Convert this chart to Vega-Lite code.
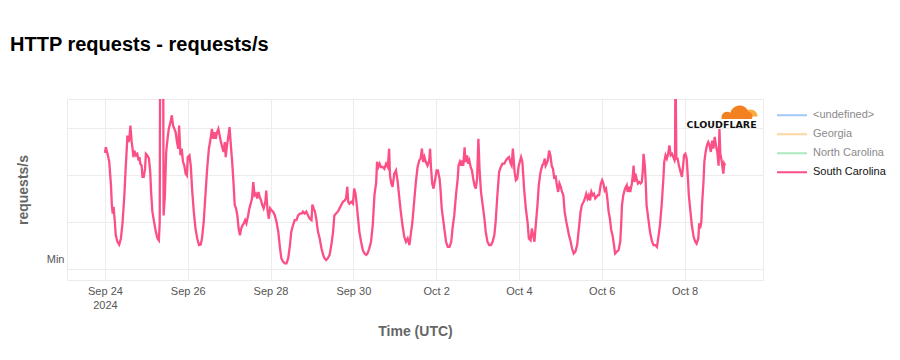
{
"$schema": "https://vega.github.io/schema/vega-lite/v6.json",
"width": 696, "height": 181,
"autosize": {"type": "none"},
"padding": {"left": 67, "top": 99, "right": 137, "bottom": 80},
"background": "white",
"title": {"text": "HTTP requests - requests/s", "anchor": "start", "frame": "group", "dx": -57, "fontSize": 20, "fontWeight": "bold", "color": "#000", "offset": 44, "font": "Liberation Sans"},
"config": {"view": {"stroke": "#ebebeb"}, "font": "Liberation Sans"},
"layer": [
{"data": {"values": [
{"t":"2024-09-24T00:00Z","v":2.47},{"t":"2024-09-24T00:30Z","v":2.59},{"t":"2024-09-24T01:30Z","v":2.45},{"t":"2024-09-24T02:30Z","v":2.28},{"t":"2024-09-24T03:30Z","v":1.78},{"t":"2024-09-24T04:00Z","v":1.36},{"t":"2024-09-24T04:30Z","v":1.18},{"t":"2024-09-24T05:00Z","v":1.32},{"t":"2024-09-24T05:45Z","v":1.00},{"t":"2024-09-24T06:15Z","v":0.72},{"t":"2024-09-24T07:15Z","v":0.58},{"t":"2024-09-24T08:15Z","v":0.52},{"t":"2024-09-24T09:15Z","v":0.65},{"t":"2024-09-24T10:15Z","v":1.00},{"t":"2024-09-24T11:15Z","v":1.57},{"t":"2024-09-24T12:00Z","v":2.13},{"t":"2024-09-24T12:45Z","v":2.63},{"t":"2024-09-24T13:00Z","v":2.84},{"t":"2024-09-24T13:45Z","v":2.70},{"t":"2024-09-24T14:15Z","v":2.81},{"t":"2024-09-24T14:45Z","v":3.05},{"t":"2024-09-24T15:30Z","v":2.70},{"t":"2024-09-24T16:00Z","v":2.56},{"t":"2024-09-24T16:30Z","v":2.38},{"t":"2024-09-24T17:00Z","v":2.52},{"t":"2024-09-24T18:00Z","v":2.42},{"t":"2024-09-24T18:45Z","v":2.45},{"t":"2024-09-24T19:30Z","v":2.31},{"t":"2024-09-24T20:00Z","v":2.38},{"t":"2024-09-24T20:30Z","v":2.24},{"t":"2024-09-24T21:15Z","v":2.20},{"t":"2024-09-24T21:45Z","v":1.96},{"t":"2024-09-24T22:30Z","v":1.96},{"t":"2024-09-24T23:15Z","v":2.13},{"t":"2024-09-24T23:45Z","v":2.45},
{"t":"2024-09-25T00:30Z","v":2.42},{"t":"2024-09-25T01:30Z","v":2.35},{"t":"2024-09-25T02:15Z","v":2.06},{"t":"2024-09-25T02:45Z","v":1.64},{"t":"2024-09-25T03:30Z","v":1.22},{"t":"2024-09-25T04:30Z","v":1.00},{"t":"2024-09-25T05:30Z","v":0.79},{"t":"2024-09-25T06:30Z","v":0.65},{"t":"2024-09-25T07:15Z","v":0.61},{"t":"2024-09-25T07:45Z","v":1.00},{"t":"2024-09-25T08:00Z","v":4.5},{"t":"2024-09-25T09:45Z","v":4.5},{"t":"2024-09-25T10:00Z","v":1.14},{"t":"2024-09-25T10:45Z","v":1.57},{"t":"2024-09-25T11:30Z","v":2.49},{"t":"2024-09-25T12:30Z","v":2.84},{"t":"2024-09-25T13:00Z","v":2.98},{"t":"2024-09-25T14:00Z","v":3.12},{"t":"2024-09-25T14:45Z","v":3.27},{"t":"2024-09-25T15:30Z","v":3.05},{"t":"2024-09-25T16:15Z","v":2.98},{"t":"2024-09-25T17:00Z","v":2.91},{"t":"2024-09-25T17:45Z","v":2.70},{"t":"2024-09-25T18:30Z","v":2.56},{"t":"2024-09-25T19:00Z","v":3.05},{"t":"2024-09-25T19:45Z","v":2.42},{"t":"2024-09-25T20:30Z","v":2.56},{"t":"2024-09-25T21:15Z","v":2.28},{"t":"2024-09-25T22:00Z","v":2.20},{"t":"2024-09-25T22:45Z","v":2.03},{"t":"2024-09-25T23:30Z","v":1.99},
{"t":"2024-09-26T00:00Z","v":2.38},{"t":"2024-09-26T01:00Z","v":2.42},{"t":"2024-09-26T01:45Z","v":2.20},{"t":"2024-09-26T02:30Z","v":1.71},{"t":"2024-09-26T03:30Z","v":1.22},{"t":"2024-09-26T04:30Z","v":0.86},{"t":"2024-09-26T05:30Z","v":0.65},{"t":"2024-09-26T06:30Z","v":0.51},{"t":"2024-09-26T07:30Z","v":0.52},{"t":"2024-09-26T08:15Z","v":0.65},{"t":"2024-09-26T09:15Z","v":1.00},{"t":"2024-09-26T10:15Z","v":1.57},{"t":"2024-09-26T11:15Z","v":2.13},{"t":"2024-09-26T12:15Z","v":2.56},{"t":"2024-09-26T13:15Z","v":2.77},{"t":"2024-09-26T14:00Z","v":2.98},{"t":"2024-09-26T14:45Z","v":2.77},{"t":"2024-09-26T15:30Z","v":2.91},{"t":"2024-09-26T16:15Z","v":2.77},{"t":"2024-09-26T17:00Z","v":2.91},{"t":"2024-09-26T17:45Z","v":2.98},{"t":"2024-09-26T18:30Z","v":2.84},{"t":"2024-09-26T19:15Z","v":2.70},{"t":"2024-09-26T20:00Z","v":2.59},{"t":"2024-09-26T20:45Z","v":2.49},{"t":"2024-09-26T21:30Z","v":2.70},{"t":"2024-09-26T22:00Z","v":2.38},{"t":"2024-09-26T22:45Z","v":2.63},{"t":"2024-09-26T23:30Z","v":2.81},
{"t":"2024-09-27T00:15Z","v":3.02},{"t":"2024-09-27T01:00Z","v":2.63},{"t":"2024-09-27T01:45Z","v":2.28},{"t":"2024-09-27T02:30Z","v":1.85},{"t":"2024-09-27T03:15Z","v":1.36},{"t":"2024-09-27T04:00Z","v":1.29},{"t":"2024-09-27T04:45Z","v":1.14},{"t":"2024-09-27T05:30Z","v":0.86},{"t":"2024-09-27T06:15Z","v":0.72},{"t":"2024-09-27T07:00Z","v":0.86},{"t":"2024-09-27T07:45Z","v":0.93},{"t":"2024-09-27T08:30Z","v":0.97},{"t":"2024-09-27T09:15Z","v":1.04},{"t":"2024-09-27T10:00Z","v":0.97},{"t":"2024-09-27T11:00Z","v":1.14},{"t":"2024-09-27T11:45Z","v":1.29},{"t":"2024-09-27T12:30Z","v":1.39},{"t":"2024-09-27T13:15Z","v":1.50},{"t":"2024-09-27T14:00Z","v":1.85},{"t":"2024-09-27T14:45Z","v":1.57},{"t":"2024-09-27T15:30Z","v":1.60},{"t":"2024-09-27T16:15Z","v":1.50},{"t":"2024-09-27T17:00Z","v":1.64},{"t":"2024-09-27T17:45Z","v":1.53},{"t":"2024-09-27T18:30Z","v":1.46},{"t":"2024-09-27T19:15Z","v":1.36},{"t":"2024-09-27T20:00Z","v":1.29},{"t":"2024-09-27T21:00Z","v":1.43},{"t":"2024-09-27T21:30Z","v":1.67},{"t":"2024-09-27T22:15Z","v":1.25},{"t":"2024-09-27T23:00Z","v":1.07},{"t":"2024-09-27T23:45Z","v":1.29},
{"t":"2024-09-28T00:30Z","v":1.25},{"t":"2024-09-28T01:30Z","v":1.22},{"t":"2024-09-28T02:30Z","v":1.14},{"t":"2024-09-28T03:30Z","v":1.00},{"t":"2024-09-28T04:30Z","v":0.79},{"t":"2024-09-28T05:30Z","v":0.44},{"t":"2024-09-28T06:15Z","v":0.23},{"t":"2024-09-28T07:15Z","v":0.16},{"t":"2024-09-28T08:15Z","v":0.12},{"t":"2024-09-28T09:15Z","v":0.12},{"t":"2024-09-28T10:15Z","v":0.23},{"t":"2024-09-28T11:15Z","v":0.51},{"t":"2024-09-28T12:00Z","v":0.79},{"t":"2024-09-28T13:00Z","v":0.93},{"t":"2024-09-28T14:00Z","v":1.04},{"t":"2024-09-28T15:00Z","v":1.04},{"t":"2024-09-28T16:00Z","v":1.14},{"t":"2024-09-28T17:00Z","v":1.18},{"t":"2024-09-28T18:00Z","v":1.18},{"t":"2024-09-28T18:45Z","v":1.22},{"t":"2024-09-28T19:45Z","v":1.18},{"t":"2024-09-28T20:45Z","v":1.22},{"t":"2024-09-28T21:45Z","v":1.14},{"t":"2024-09-28T22:45Z","v":1.07},{"t":"2024-09-28T23:45Z","v":1.04},
{"t":"2024-09-29T00:15Z","v":1.37},{"t":"2024-09-29T01:00Z","v":1.29},{"t":"2024-09-29T01:45Z","v":1.22},{"t":"2024-09-29T02:30Z","v":1.07},{"t":"2024-09-29T03:30Z","v":0.79},{"t":"2024-09-29T04:30Z","v":0.65},{"t":"2024-09-29T05:30Z","v":0.44},{"t":"2024-09-29T06:30Z","v":0.30},{"t":"2024-09-29T07:15Z","v":0.23},{"t":"2024-09-29T08:15Z","v":0.19},{"t":"2024-09-29T09:15Z","v":0.23},{"t":"2024-09-29T10:15Z","v":0.30},{"t":"2024-09-29T11:15Z","v":0.51},{"t":"2024-09-29T12:15Z","v":0.79},{"t":"2024-09-29T13:00Z","v":1.14},{"t":"2024-09-29T14:00Z","v":1.18},{"t":"2024-09-29T15:00Z","v":1.22},{"t":"2024-09-29T16:00Z","v":1.29},{"t":"2024-09-29T17:00Z","v":1.36},{"t":"2024-09-29T18:00Z","v":1.43},{"t":"2024-09-29T19:00Z","v":1.46},{"t":"2024-09-29T19:45Z","v":1.50},{"t":"2024-09-29T20:30Z","v":1.75},{"t":"2024-09-29T21:00Z","v":1.43},{"t":"2024-09-29T21:45Z","v":1.39},{"t":"2024-09-29T22:45Z","v":1.43},{"t":"2024-09-29T23:45Z","v":1.39},
{"t":"2024-09-30T00:30Z","v":1.71},{"t":"2024-09-30T01:15Z","v":1.60},{"t":"2024-09-30T02:00Z","v":1.36},{"t":"2024-09-30T02:45Z","v":1.07},{"t":"2024-09-30T03:30Z","v":0.79},{"t":"2024-09-30T04:30Z","v":0.58},{"t":"2024-09-30T05:30Z","v":0.40},{"t":"2024-09-30T06:30Z","v":0.33},{"t":"2024-09-30T07:30Z","v":0.30},{"t":"2024-09-30T08:15Z","v":0.33},{"t":"2024-09-30T09:15Z","v":0.44},{"t":"2024-09-30T10:15Z","v":0.58},{"t":"2024-09-30T11:15Z","v":0.93},{"t":"2024-09-30T12:15Z","v":1.57},{"t":"2024-09-30T13:15Z","v":1.85},{"t":"2024-09-30T13:45Z","v":2.28},{"t":"2024-09-30T14:30Z","v":2.17},{"t":"2024-09-30T15:15Z","v":2.24},{"t":"2024-09-30T16:00Z","v":2.17},{"t":"2024-09-30T17:00Z","v":2.17},{"t":"2024-09-30T18:00Z","v":2.13},{"t":"2024-09-30T19:00Z","v":2.24},{"t":"2024-09-30T20:00Z","v":2.17},{"t":"2024-09-30T20:45Z","v":2.56},{"t":"2024-09-30T21:15Z","v":1.99},{"t":"2024-09-30T22:00Z","v":1.82},{"t":"2024-09-30T22:45Z","v":1.75},{"t":"2024-09-30T23:45Z","v":2.03},
{"t":"2024-10-01T00:45Z","v":2.10},{"t":"2024-10-01T01:45Z","v":1.85},{"t":"2024-10-01T02:30Z","v":1.57},{"t":"2024-10-01T03:30Z","v":1.22},{"t":"2024-10-01T04:30Z","v":0.93},{"t":"2024-10-01T05:30Z","v":0.69},{"t":"2024-10-01T06:30Z","v":0.58},{"t":"2024-10-01T07:30Z","v":0.65},{"t":"2024-10-01T08:30Z","v":0.51},{"t":"2024-10-01T09:15Z","v":0.72},{"t":"2024-10-01T10:15Z","v":1.00},{"t":"2024-10-01T11:15Z","v":1.43},{"t":"2024-10-01T12:15Z","v":1.85},{"t":"2024-10-01T13:15Z","v":2.17},{"t":"2024-10-01T14:15Z","v":2.31},{"t":"2024-10-01T15:00Z","v":2.35},{"t":"2024-10-01T15:45Z","v":2.56},{"t":"2024-10-01T16:30Z","v":2.28},{"t":"2024-10-01T17:15Z","v":2.38},{"t":"2024-10-01T18:00Z","v":2.28},{"t":"2024-10-01T19:00Z","v":2.20},{"t":"2024-10-01T20:00Z","v":2.31},{"t":"2024-10-01T20:30Z","v":2.56},{"t":"2024-10-01T21:00Z","v":2.17},{"t":"2024-10-01T21:45Z","v":1.82},{"t":"2024-10-01T22:30Z","v":1.71},{"t":"2024-10-01T23:30Z","v":1.92},
{"t":"2024-10-02T00:15Z","v":2.10},{"t":"2024-10-02T01:00Z","v":2.10},{"t":"2024-10-02T02:00Z","v":1.92},{"t":"2024-10-02T02:30Z","v":1.71},{"t":"2024-10-02T03:15Z","v":1.29},{"t":"2024-10-02T03:45Z","v":1.14},{"t":"2024-10-02T04:45Z","v":0.86},{"t":"2024-10-02T05:45Z","v":0.58},{"t":"2024-10-02T06:45Z","v":0.47},{"t":"2024-10-02T07:45Z","v":0.47},{"t":"2024-10-02T08:45Z","v":0.58},{"t":"2024-10-02T09:30Z","v":0.86},{"t":"2024-10-02T10:30Z","v":1.14},{"t":"2024-10-02T11:30Z","v":1.57},{"t":"2024-10-02T12:30Z","v":1.92},{"t":"2024-10-02T13:00Z","v":2.20},{"t":"2024-10-02T13:45Z","v":2.28},{"t":"2024-10-02T14:30Z","v":2.20},{"t":"2024-10-02T15:00Z","v":2.31},{"t":"2024-10-02T15:45Z","v":2.20},{"t":"2024-10-02T16:30Z","v":2.59},{"t":"2024-10-02T17:00Z","v":2.28},{"t":"2024-10-02T18:00Z","v":2.42},{"t":"2024-10-02T18:30Z","v":2.24},{"t":"2024-10-02T19:15Z","v":2.31},{"t":"2024-10-02T20:00Z","v":2.17},{"t":"2024-10-02T20:45Z","v":2.10},{"t":"2024-10-02T21:30Z","v":1.92},{"t":"2024-10-02T22:15Z","v":1.78},{"t":"2024-10-02T23:00Z","v":1.71},{"t":"2024-10-02T23:45Z","v":1.92},
{"t":"2024-10-03T00:30Z","v":2.77},{"t":"2024-10-03T01:15Z","v":2.06},{"t":"2024-10-03T02:00Z","v":1.64},{"t":"2024-10-03T03:00Z","v":1.36},{"t":"2024-10-03T04:00Z","v":1.07},{"t":"2024-10-03T04:45Z","v":0.79},{"t":"2024-10-03T05:45Z","v":0.58},{"t":"2024-10-03T06:45Z","v":0.51},{"t":"2024-10-03T07:45Z","v":0.51},{"t":"2024-10-03T08:45Z","v":0.58},{"t":"2024-10-03T09:45Z","v":0.72},{"t":"2024-10-03T10:30Z","v":1.00},{"t":"2024-10-03T11:30Z","v":1.57},{"t":"2024-10-03T12:30Z","v":2.06},{"t":"2024-10-03T13:30Z","v":2.17},{"t":"2024-10-03T14:30Z","v":2.24},{"t":"2024-10-03T15:30Z","v":2.24},{"t":"2024-10-03T16:30Z","v":2.31},{"t":"2024-10-03T17:15Z","v":2.35},{"t":"2024-10-03T18:15Z","v":2.38},{"t":"2024-10-03T19:15Z","v":2.24},{"t":"2024-10-03T19:45Z","v":2.20},{"t":"2024-10-03T20:30Z","v":2.56},{"t":"2024-10-03T21:30Z","v":2.06},{"t":"2024-10-03T22:15Z","v":1.89},{"t":"2024-10-03T23:00Z","v":1.92},{"t":"2024-10-03T23:45Z","v":2.17},
{"t":"2024-10-04T00:30Z","v":2.28},{"t":"2024-10-04T01:15Z","v":2.38},{"t":"2024-10-04T02:00Z","v":2.28},{"t":"2024-10-04T03:00Z","v":1.71},{"t":"2024-10-04T04:00Z","v":1.29},{"t":"2024-10-04T05:00Z","v":1.00},{"t":"2024-10-04T05:45Z","v":0.65},{"t":"2024-10-04T06:45Z","v":0.61},{"t":"2024-10-04T07:30Z","v":0.86},{"t":"2024-10-04T08:15Z","v":0.72},{"t":"2024-10-04T09:00Z","v":0.58},{"t":"2024-10-04T09:45Z","v":0.93},{"t":"2024-10-04T10:45Z","v":1.36},{"t":"2024-10-04T11:30Z","v":1.78},{"t":"2024-10-04T12:30Z","v":2.06},{"t":"2024-10-04T13:30Z","v":2.20},{"t":"2024-10-04T14:15Z","v":2.24},{"t":"2024-10-04T15:00Z","v":2.35},{"t":"2024-10-04T15:30Z","v":2.20},{"t":"2024-10-04T16:00Z","v":2.24},{"t":"2024-10-04T16:45Z","v":2.31},{"t":"2024-10-04T17:30Z","v":2.52},{"t":"2024-10-04T18:15Z","v":2.42},{"t":"2024-10-04T19:00Z","v":2.20},{"t":"2024-10-04T19:45Z","v":2.13},{"t":"2024-10-04T20:30Z","v":1.92},{"t":"2024-10-04T21:15Z","v":1.99},{"t":"2024-10-04T22:00Z","v":1.78},{"t":"2024-10-04T22:45Z","v":1.64},{"t":"2024-10-04T23:30Z","v":1.82},
{"t":"2024-10-05T00:15Z","v":1.75},{"t":"2024-10-05T01:00Z","v":1.64},{"t":"2024-10-05T01:45Z","v":1.57},{"t":"2024-10-05T02:30Z","v":1.22},{"t":"2024-10-05T03:30Z","v":1.00},{"t":"2024-10-05T04:15Z","v":0.86},{"t":"2024-10-05T05:00Z","v":0.72},{"t":"2024-10-05T06:00Z","v":0.58},{"t":"2024-10-05T06:45Z","v":0.44},{"t":"2024-10-05T07:45Z","v":0.33},{"t":"2024-10-05T08:45Z","v":0.37},{"t":"2024-10-05T09:45Z","v":0.51},{"t":"2024-10-05T10:45Z","v":0.86},{"t":"2024-10-05T11:45Z","v":1.22},{"t":"2024-10-05T12:30Z","v":1.36},{"t":"2024-10-05T13:30Z","v":1.43},{"t":"2024-10-05T14:15Z","v":1.50},{"t":"2024-10-05T15:00Z","v":1.60},{"t":"2024-10-05T15:45Z","v":1.50},{"t":"2024-10-05T16:30Z","v":1.57},{"t":"2024-10-05T17:15Z","v":1.46},{"t":"2024-10-05T18:00Z","v":1.64},{"t":"2024-10-05T18:45Z","v":1.57},{"t":"2024-10-05T19:30Z","v":1.60},{"t":"2024-10-05T20:15Z","v":1.50},{"t":"2024-10-05T21:00Z","v":1.53},{"t":"2024-10-05T21:45Z","v":1.57},{"t":"2024-10-05T22:30Z","v":1.57},{"t":"2024-10-05T23:30Z","v":1.82},
{"t":"2024-10-06T00:15Z","v":1.89},{"t":"2024-10-06T01:00Z","v":1.82},{"t":"2024-10-06T01:45Z","v":1.67},{"t":"2024-10-06T02:30Z","v":1.71},{"t":"2024-10-06T03:15Z","v":1.50},{"t":"2024-10-06T04:00Z","v":1.22},{"t":"2024-10-06T04:45Z","v":1.07},{"t":"2024-10-06T05:30Z","v":0.83},{"t":"2024-10-06T06:15Z","v":0.72},{"t":"2024-10-06T07:00Z","v":0.54},{"t":"2024-10-06T07:45Z","v":0.33},{"t":"2024-10-06T08:45Z","v":0.37},{"t":"2024-10-06T09:45Z","v":0.40},{"t":"2024-10-06T10:45Z","v":0.58},{"t":"2024-10-06T11:15Z","v":0.93},{"t":"2024-10-06T11:45Z","v":1.36},{"t":"2024-10-06T12:30Z","v":1.57},{"t":"2024-10-06T13:30Z","v":1.71},{"t":"2024-10-06T14:30Z","v":1.78},{"t":"2024-10-06T15:00Z","v":1.64},{"t":"2024-10-06T15:45Z","v":1.75},{"t":"2024-10-06T16:30Z","v":1.64},{"t":"2024-10-06T17:30Z","v":1.82},{"t":"2024-10-06T18:00Z","v":1.99},{"t":"2024-10-06T18:30Z","v":2.20},{"t":"2024-10-06T19:00Z","v":1.85},{"t":"2024-10-06T19:30Z","v":2.03},{"t":"2024-10-06T20:15Z","v":1.92},{"t":"2024-10-06T21:00Z","v":1.82},{"t":"2024-10-06T21:45Z","v":1.85},{"t":"2024-10-06T22:30Z","v":1.82},{"t":"2024-10-06T23:15Z","v":1.85},{"t":"2024-10-06T23:45Z","v":2.06},
{"t":"2024-10-07T00:15Z","v":2.45},{"t":"2024-10-07T01:00Z","v":2.20},{"t":"2024-10-07T01:30Z","v":1.85},{"t":"2024-10-07T02:00Z","v":1.36},{"t":"2024-10-07T03:00Z","v":1.07},{"t":"2024-10-07T04:00Z","v":0.79},{"t":"2024-10-07T05:00Z","v":0.61},{"t":"2024-10-07T06:00Z","v":0.51},{"t":"2024-10-07T07:00Z","v":0.51},{"t":"2024-10-07T08:00Z","v":0.47},{"t":"2024-10-07T08:45Z","v":0.65},{"t":"2024-10-07T09:45Z","v":0.93},{"t":"2024-10-07T10:45Z","v":1.36},{"t":"2024-10-07T11:45Z","v":1.92},{"t":"2024-10-07T12:15Z","v":2.28},{"t":"2024-10-07T13:00Z","v":2.42},{"t":"2024-10-07T13:45Z","v":2.35},{"t":"2024-10-07T14:30Z","v":2.45},{"t":"2024-10-07T15:15Z","v":2.63},{"t":"2024-10-07T16:00Z","v":2.42},{"t":"2024-10-07T16:45Z","v":2.45},{"t":"2024-10-07T17:30Z","v":2.38},{"t":"2024-10-07T18:15Z","v":2.31},{"t":"2024-10-07T18:30Z","v":2.35},{"t":"2024-10-07T18:45Z","v":4.5},{"t":"2024-10-07T19:15Z","v":2.35},{"t":"2024-10-07T20:00Z","v":2.35},{"t":"2024-10-07T20:45Z","v":2.20},{"t":"2024-10-07T21:45Z","v":2.06},{"t":"2024-10-07T22:30Z","v":1.96},{"t":"2024-10-07T23:00Z","v":2.13},{"t":"2024-10-07T23:45Z","v":2.42},
{"t":"2024-10-08T00:30Z","v":2.45},{"t":"2024-10-08T01:15Z","v":2.35},{"t":"2024-10-08T02:00Z","v":1.92},{"t":"2024-10-08T02:30Z","v":1.57},{"t":"2024-10-08T03:15Z","v":1.29},{"t":"2024-10-08T04:15Z","v":0.93},{"t":"2024-10-08T05:15Z","v":0.69},{"t":"2024-10-08T06:15Z","v":0.58},{"t":"2024-10-08T07:00Z","v":0.54},{"t":"2024-10-08T08:00Z","v":0.65},{"t":"2024-10-08T08:30Z","v":0.97},{"t":"2024-10-08T09:00Z","v":0.86},{"t":"2024-10-08T09:45Z","v":1.00},{"t":"2024-10-08T10:15Z","v":1.43},{"t":"2024-10-08T11:00Z","v":1.85},{"t":"2024-10-08T11:30Z","v":2.28},{"t":"2024-10-08T12:15Z","v":2.49},{"t":"2024-10-08T13:00Z","v":2.63},{"t":"2024-10-08T13:45Z","v":2.70},{"t":"2024-10-08T14:30Z","v":2.63},{"t":"2024-10-08T15:15Z","v":2.49},{"t":"2024-10-08T16:00Z","v":2.73},{"t":"2024-10-08T16:45Z","v":2.56},{"t":"2024-10-08T17:30Z","v":2.81},{"t":"2024-10-08T18:15Z","v":2.63},{"t":"2024-10-08T19:00Z","v":2.49},{"t":"2024-10-08T19:45Z","v":2.20},{"t":"2024-10-08T20:15Z","v":2.98},{"t":"2024-10-08T20:45Z","v":2.45},{"t":"2024-10-08T21:30Z","v":2.31},{"t":"2024-10-08T22:00Z","v":2.17},{"t":"2024-10-08T22:30Z","v":2.03},{"t":"2024-10-08T23:00Z","v":2.24},{"t":"2024-10-08T23:30Z","v":2.20}
]},
"mark": {"type": "line", "clip": true, "strokeWidth": 2.3},
"encoding": {
"x": {"field": "t", "type": "temporal",
 "scale": {"type": "utc", "domain": [{"year": 2024, "month": 9, "date": 23, "hours": 2, "utc": true}, {"year": 2024, "month": 10, "date": 9, "hours": 21, "minutes": 30, "utc": true}]},
 "axis": {"values": [{"year":2024,"month":9,"date":24,"utc":true},{"year":2024,"month":9,"date":26,"utc":true},{"year":2024,"month":9,"date":28,"utc":true},{"year":2024,"month":9,"date":30,"utc":true},{"year":2024,"month":10,"date":2,"utc":true},{"year":2024,"month":10,"date":4,"utc":true},{"year":2024,"month":10,"date":6,"utc":true},{"year":2024,"month":10,"date":8,"utc":true}],
  "labelExpr": "datum.index == 0 ? [utcFormat(datum.value, '%b %-d'), '2024'] : utcFormat(datum.value, '%b %-d')",
  "domain": false, "ticks": false, "gridColor": "#ececec", "labelColor": "#555", "labelFontSize": 11, "labelPadding": 5, "labelLineHeight": 14, "labelFlush": false, "labelOverlap": false,
  "title": "Time (UTC)", "titleFontSize": 14, "titleFontWeight": "bold", "titleColor": "#666", "titlePadding": 14}},
"y": {"field": "v", "type": "quantitative",
 "scale": {"domain": [-0.234, 3.617], "nice": false, "zero": false},
 "axis": {"values": [0, 1, 2, 3], "labelExpr": "datum.value == 0 ? 'Min' : ''", "labelOffset": -10, "domain": false, "ticks": false, "gridColor": "#ececec", "labelColor": "#555", "labelFontSize": 11, "labelPadding": 3,
  "title": "requests/s", "titleFontSize": 14, "titleFontWeight": "bold", "titleColor": "#666", "titlePadding": 16}},
"color": {"datum": "South Carolina", "type": "nominal",
 "scale": {"domain": ["<undefined>", "Georgia", "North Carolina", "South Carolina"], "range": ["#a3c7f7", "#fdd6a0", "#ade8bf", "#fb4f86"]},
 "legend": {"title": null, "orient": "none", "legendX": 709, "legendY": 7, "symbolType": "stroke", "symbolSize": 900, "symbolStrokeWidth": 2, "labelFontSize": 11, "labelOffset": 5, "clipHeight": 18.7, "rowPadding": 0, "padding": 0, "labelLimit": 200,
  "encode": {"labels": {"update": {"fill": [{"test": "datum.label === 'South Carolina'", "value": "#111"}, {"value": "#8a8a8a"}]}}}}}
}},
{"data": {"values": [{"t": "2024-10-09T14:15Z", "v": 3.32}]},
 "mark": {"type": "point", "shape": "M-1,0.5 A1,1 0 0 1 1,0.5 Z", "filled": true, "color": "#fbad41", "opacity": 1, "size": 196},
 "encoding": {"x": {"field": "t", "type": "temporal"}, "y": {"field": "v", "type": "quantitative"}}},
{"data": {"values": [{"t": "2024-10-09T06:45Z", "v": 3.36}]},
 "mark": {"type": "point", "shape": "M-1,0.5 A0.36,0.36 0 0 1 -0.45,0.1 A0.6,0.6 0 0 1 0.7,0.05 A0.3,0.3 0 0 1 0.9,0.5 Z", "filled": true, "color": "#f48120", "opacity": 1, "size": 1000},
 "encoding": {"x": {"field": "t", "type": "temporal"}, "y": {"field": "v", "type": "quantitative"}}},
{"data": {"values": [{"t": "2024-10-08T21:30Z", "v": 3.06, "label": "CLOUDFLARE"}]},
 "mark": {"type": "text", "font": "DejaVu Sans", "fontWeight": "bold", "fontSize": 9.5, "color": "#111", "align": "center", "baseline": "middle"},
 "encoding": {"x": {"field": "t", "type": "temporal"}, "y": {"field": "v", "type": "quantitative"}, "text": {"field": "label"}}}
]
}
